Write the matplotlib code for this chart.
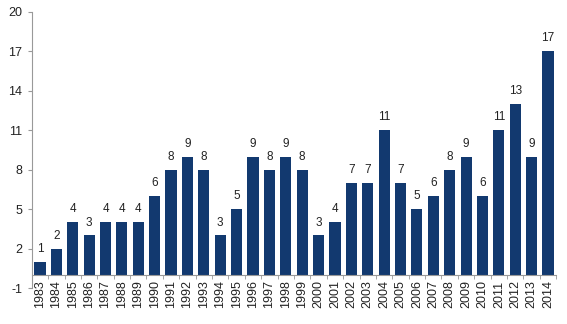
import numpy as np
import matplotlib.pyplot as plt
from matplotlib.ticker import FixedLocator

plt.rcParams['font.family'] = ['Liberation Sans', 'DejaVu Sans']
plt.rcParams['axes.unicode_minus'] = False

years = [str(y) for y in range(1983, 2015)]
counts = [1, 2, 4, 3, 4, 4, 4, 6, 8, 9, 8, 3, 5, 9, 8, 9, 8, 3, 4, 7, 7, 11,
          7, 5, 6, 8, 9, 6, 11, 13, 9, 17]

x = np.arange(len(years))

fig = plt.figure(figsize=(5.67, 3.24), dpi=100)
ax = fig.add_axes([0.056, 0.111, 0.925, 0.852])

bars = ax.bar(x, counts, width=0.68, color='#12396f')
ax.bar_label(bars, labels=[str(c) for c in counts], padding=5, fontsize=8.5, color='#222222')

ax.set_xlim(-0.5, len(years) - 0.5)
ax.set_ylim(-1, 20)
ax.set_yticks(np.arange(-1, 21, 3))

ax.spines['top'].set_visible(False)
ax.spines['right'].set_visible(False)
ax.spines['bottom'].set_position(('data', 0))
for s in ('left', 'bottom'):
    ax.spines[s].set_color('#999999')
    ax.spines[s].set_linewidth(0.8)

ax.set_xticks(x)
ax.set_xticklabels(years, rotation=90, fontsize=9, color='#222222')
ax.tick_params(axis='x', which='major', length=0, pad=4)
ax.xaxis.set_minor_locator(FixedLocator(np.arange(-0.5, len(years), 1)))
ax.tick_params(axis='x', which='minor', length=3, color='#999999', direction='out')
ax.tick_params(axis='y', length=3, color='#999999', labelsize=9, labelcolor='#222222', pad=4)

fig.savefig('out.png', dpi=100)
